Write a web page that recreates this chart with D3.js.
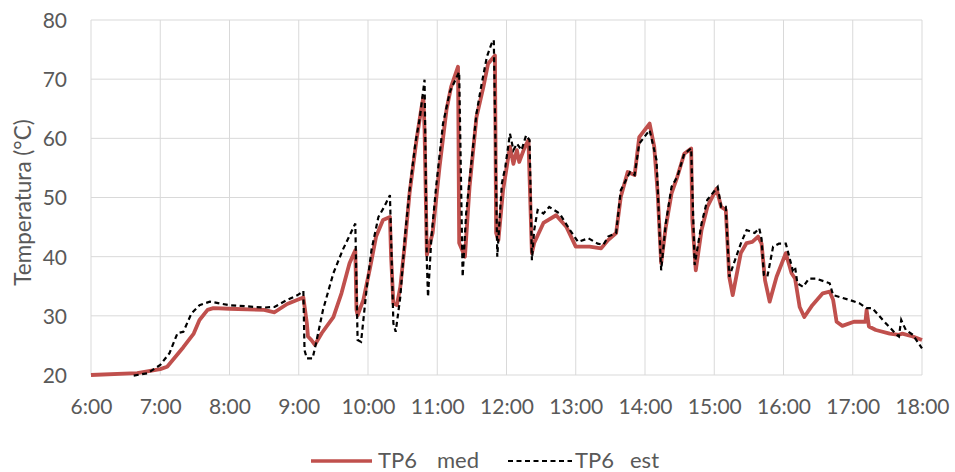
<!DOCTYPE html>
<html><head><meta charset="utf-8">
<script src="https://cdn.jsdelivr.net/npm/d3@7"></script>
<style>
html,body{margin:0;padding:0;background:#fff;}
svg text{font-family:Lato,"Open Sans",sans-serif;fill:#595959;}
</style></head>
<body><svg id="c" width="955" height="472"></svg>
<script>
const xTicks = ["6:00","7:00","8:00","9:00","10:00","11:00","12:00","13:00","14:00","15:00","16:00","17:00","18:00"];
const yTicks = [20,30,40,50,60,70,80];

const medTime = ["6:00","6:40","7:00","7:06","7:20","7:29","7:34","7:41","7:46","8:00","8:30","8:39","8:50","8:59","9:04","9:07","9:08","9:11","9:14","9:20","9:30","9:37","9:44","9:49","9:50","9:51","9:56","10:02","10:07","10:13","10:19","10:20","10:22","10:25","10:28","10:32","10:36","10:42","10:46","10:48","10:49","10:51","10:56","11:02","11:08","11:12","11:18","11:19","11:24","11:28","11:34","11:40","11:44","11:50","11:51","11:53","11:57","12:03","12:06","12:09","12:11","12:16","12:19","12:22","12:24","12:32","12:43","12:52","13:00","13:12","13:22","13:28","13:35","13:39","13:45","13:51","13:55","14:04","14:08","14:11","14:14","14:18","14:23","14:28","14:34","14:40","14:41","14:44","14:49","14:54","15:02","15:06","15:10","15:13","15:16","15:23","15:28","15:33","15:38","15:41","15:44","15:48","15:54","16:02","16:07","16:10","16:14","16:18","16:25","16:34","16:40","16:43","16:46","16:51","17:01","17:11","17:12","17:14","17:20","17:32","17:40","17:43","17:52","18:00"];
const medValue = [20.0,20.3,21.0,21.4,24.7,27.0,29.3,31.0,31.3,31.2,31.0,30.6,32.0,32.7,33.1,28.8,26.5,25.9,25.1,27.1,29.8,33.8,38.9,41.1,31.0,30.1,32.7,38.3,43.4,46.2,46.7,40.0,32.1,31.8,34.9,42.3,50.7,59.7,64.8,67.0,61.4,40.3,44.0,55.2,64.8,68.7,72.1,42.3,40.0,51.8,63.6,68.7,72.6,74.0,44.0,42.8,51.2,58.6,55.7,58.0,56.0,58.6,59.7,40.6,42.3,45.7,47.0,45.0,41.7,41.7,41.4,42.8,44.0,50.1,54.3,53.8,60.2,62.5,58.6,50.7,38.9,45.0,50.7,53.5,57.4,58.3,46.2,37.7,44.5,48.4,51.5,48.4,47.9,36.6,33.5,40.6,42.3,42.5,43.4,42.2,36.0,32.4,36.6,40.6,37.2,36.3,31.5,29.8,31.8,33.8,34.1,32.7,29.0,28.3,29.0,29.0,31.0,28.2,27.6,27.0,26.8,27.0,26.5,25.9];

const estTime = ["6:37","6:49","7:00","7:08","7:15","7:20","7:27","7:34","7:43","8:00","8:30","8:39","8:50","8:59","9:04","9:05","9:07","9:12","9:15","9:21","9:30","9:38","9:49","9:51","9:54","9:59","10:03","10:09","10:14","10:19","10:22","10:24","10:28","10:32","10:36","10:41","10:45","10:49","10:51","10:52","10:55","10:59","11:05","11:11","11:17","11:19","11:22","11:25","11:31","11:34","11:38","11:43","11:47","11:49","11:52","11:56","11:59","12:03","12:06","12:09","12:13","12:17","12:20","12:22","12:24","12:27","12:32","12:37","12:46","12:55","13:02","13:11","13:19","13:24","13:28","13:35","13:39","13:47","13:51","13:55","14:04","14:10","14:13","14:14","14:18","14:23","14:28","14:34","14:40","14:43","14:49","14:54","15:03","15:06","15:10","15:13","15:19","15:23","15:28","15:35","15:39","15:41","15:43","15:46","15:51","15:56","16:02","16:05","16:08","16:10","16:12","16:17","16:22","16:28","16:40","16:43","16:57","17:06","17:12","17:17","17:26","17:38","17:40","17:42","17:46","17:52","18:00"];
const estValue = [19.9,20.3,21.7,23.7,27.1,27.3,30.4,31.8,32.4,31.8,31.4,31.5,32.7,33.5,34.2,24.2,22.8,22.8,25.4,31.0,37.2,41.1,45.6,25.9,25.6,34.9,41.1,46.7,48.4,50.4,28.7,27.3,33.2,43.4,51.2,59.1,63.6,69.9,38.9,33.2,43.4,51.8,62.5,67.9,70.4,71.2,36.6,47.3,58.6,64.2,68.7,73.8,76.0,76.6,40.0,52.4,55.2,60.8,58.0,59.1,58.0,60.5,59.7,39.4,44.5,47.9,47.3,48.4,47.3,44.5,42.5,43.1,42.2,42.0,43.4,44.0,51.2,54.3,53.8,59.1,61.4,56.3,42.2,37.7,45.6,51.8,53.5,57.4,58.3,38.6,45.6,49.6,51.8,48.4,48.4,36.6,40.0,42.2,44.5,44.0,44.8,43.0,36.9,36.6,41.7,42.2,42.2,40.0,37.7,38.3,35.5,34.9,36.3,36.3,35.5,33.5,32.7,32.1,31.3,31.3,29.3,26.8,26.5,29.3,27.6,26.8,24.5];

const seriesNames = [["TP6","med"],["TP6","est"]];

const toH = s => { const [h,m] = s.split(":").map(Number); return h + m/60; };

const svg = d3.select("#c");
const M = {l:91, r:922, t:20, b:375};
const x = d3.scaleLinear().domain([6,18]).range([M.l, M.r]);
const y = d3.scaleLinear().domain([20,80]).range([M.b, M.t]);

// grid
svg.append("g").selectAll("line").data(yTicks).join("line")
  .attr("x1",M.l).attr("x2",M.r).attr("y1",d=>y(d)).attr("y2",d=>y(d))
  .attr("stroke","#d9d9d9").attr("stroke-width",1);
svg.append("g").selectAll("line").data(xTicks).join("line")
  .attr("x1",d=>x(toH(d))).attr("x2",d=>x(toH(d))).attr("y1",M.t).attr("y2",M.b)
  .attr("stroke","#d9d9d9").attr("stroke-width",1);

// axes
const yAxis = d3.axisLeft(y).tickValues(yTicks).tickSize(0).tickPadding(24);
const gy = svg.append("g").attr("transform",`translate(${M.l},0)`).call(yAxis);
gy.select(".domain").remove();
gy.selectAll("text").attr("font-size",21).attr("dy","0.35em").style("font-family","Lato").style("fill","#595959");

const xAxis = d3.axisBottom(x).tickValues(xTicks.map(toH)).tickFormat((d,i)=>xTicks[i]).tickSize(0).tickPadding(24);
const gx = svg.append("g").attr("transform",`translate(0,${M.b})`).call(xAxis);
gx.select(".domain").remove();
gx.selectAll("text").attr("font-size",21).style("font-family","Lato").style("fill","#595959");

svg.append("text").attr("transform",`translate(31,${(M.t+M.b)/2 + 5}) rotate(-90)`)
  .attr("text-anchor","middle").attr("font-size",22.5).text("Temperatura (°C)");

const line = d3.line().x(d=>x(d[0])).y(d=>y(d[1]));
const med = medTime.map((t,i)=>[toH(t), medValue[i]]);
const est = estTime.map((t,i)=>[toH(t), estValue[i]]);

svg.append("path").datum(med).attr("d",line).attr("fill","none")
  .attr("stroke","#C0504D").attr("stroke-width",3.8).attr("stroke-linejoin","round");
svg.append("path").datum(est).attr("d",line).attr("fill","none")
  .attr("stroke","#000").attr("stroke-width",2.2).attr("stroke-dasharray","5,3.5");

// legend
const lg = svg.append("g");
lg.append("line").attr("x1",311).attr("x2",372).attr("y1",461).attr("y2",461)
  .attr("stroke","#C0504D").attr("stroke-width",3.5);
lg.append("text").attr("x",378).attr("y",468).attr("font-size",22).text(seriesNames[0][0]);
lg.append("text").attr("x",437).attr("y",468).attr("font-size",22).text(seriesNames[0][1]);
lg.append("line").attr("x1",508).attr("x2",572).attr("y1",461).attr("y2",461)
  .attr("stroke","#000").attr("stroke-width",2.2).attr("stroke-dasharray","5,3.5");
lg.append("text").attr("x",575).attr("y",468).attr("font-size",22).text(seriesNames[1][0]);
lg.append("text").attr("x",630).attr("y",468).attr("font-size",22).text(seriesNames[1][1]);
</script></body></html>
